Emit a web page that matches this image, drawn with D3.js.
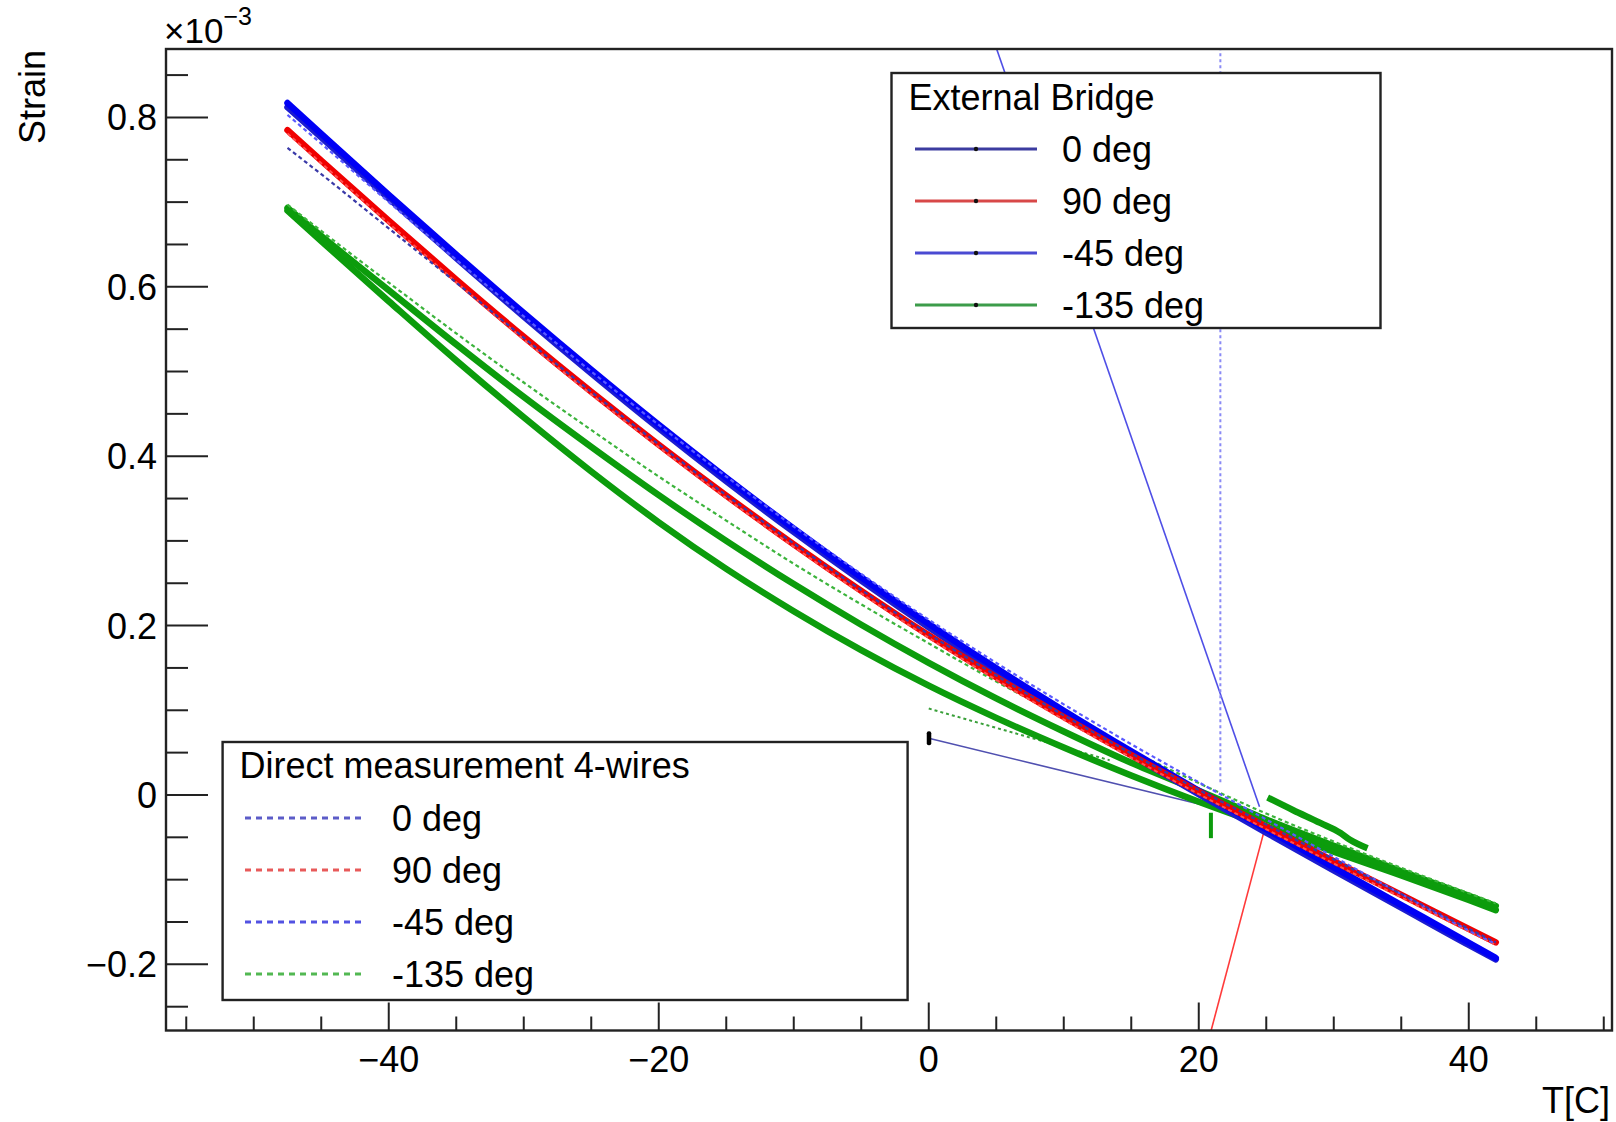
<!DOCTYPE html>
<html><head><meta charset="utf-8">
<script src="https://cdn.jsdelivr.net/npm/d3@7"></script>
<style>
html,body{margin:0;padding:0;background:#fff;}
svg text{font-family:"Liberation Sans",Arial,Helvetica,sans-serif;fill:#000;}
</style></head>
<body><svg id="c" width="1616" height="1122"></svg>
<script>
// ---------------- data (strain in units of 1e-3, T in degC) ----------------
const temps = [-47.5,-45,-40,-35,-30,-25,-20,-15,-10,-5,0,5,10,15,20,25,30,35,40,42];
// External bridge (thick)
const extM45   = [0.817,0.7805,0.7085,0.638,0.569,0.502,0.437,0.3745,0.3145,0.257,0.202,0.1495,0.0995,0.0515,0.005,-0.0405,-0.0855,-0.130,-0.1745,-0.1925];
const ext0     = [0.812,0.7765,0.7045,0.634,0.565,0.498,0.433,0.3705,0.3105,0.253,0.198,0.1455,0.0955,0.0475,0.001,-0.0445,-0.0890,-0.133,-0.1770,-0.1940];
const ext90    = [0.785,0.749,0.678,0.6085,0.541,0.476,0.4135,0.3535,0.296,0.241,0.1885,0.139,0.092,0.047,0.004,-0.0375,-0.078,-0.118,-0.158,-0.174];
const extM135a = [0.690,0.654,0.583,0.513,0.446,0.382,0.322,0.267,0.217,0.171,0.129,0.091,0.056,0.023,-0.008,-0.037,-0.067,-0.095,-0.124,-0.136];
const extM135b = [0.693,0.660,0.596,0.532,0.470,0.411,0.354,0.300,0.249,0.201,0.156,0.114,0.075,0.038,0.005,-0.029,-0.060,-0.090,-0.119,-0.131];
// Direct measurement 4-wires (dashed)
const dirM45   = [0.803,0.769,0.700,0.632,0.565,0.500,0.437,0.376,0.317,0.261,0.207,0.156,0.107,0.060,0.015,-0.029,-0.073,-0.117,-0.160,-0.176];
const dir0     = [0.764,0.733,0.669,0.605,0.540,0.476,0.414,0.354,0.297,0.242,0.190,0.141,0.094,0.049,0.006,-0.035,-0.076,-0.117,-0.158,-0.174];
const dir90    = [0.781,0.746,0.675,0.6055,0.538,0.473,0.4105,0.3505,0.293,0.238,0.1855,0.136,0.089,0.044,0.001,-0.0405,-0.081,-0.121,-0.161,-0.177];
const dirM135  = [0.697,0.666,0.605,0.545,0.487,0.431,0.376,0.324,0.273,0.225,0.179,0.134,0.092,0.052,0.014,-0.022,-0.055,-0.086,-0.116,-0.128];
// first-point glitches / connecting segments [T, strain]
const ext0Start    = [[0.0,0.067],[20.85,-0.014]];
const extM45Start  = [[2.0,1.02],[24.5,-0.014]];
const ext90Start   = [[17.0,-0.513],[24.8,-0.045]];
const extM135Start = [[20.9,-0.051],[20.9,-0.021]];
const extM135Tail  = [[25.1,-0.003],[27.0,-0.018],[29.0,-0.033],[30.5,-0.045],[31.2,-0.053],[32.5,-0.063]];
const dirM45Start  = [[21.6,1.40],[21.6,0.014]];
const dirM135Start = [[0.0,0.102],[13.4,0.041]];
// axes
const xMajor = [-40,-20,0,20,40];
const xMinor = [-55,-50,-45,-35,-30,-25,-15,-10,-5,5,10,15,25,30,35,45,50];
const yMajor = [-0.2,0,0.2,0.4,0.6,0.8];
const yMinor = [-0.25,-0.15,-0.1,-0.05,0.05,0.1,0.15,0.25,0.3,0.35,0.45,0.5,0.55,0.65,0.7,0.75,0.85];
const legendExtLabels = ["0 deg","90 deg","-45 deg","-135 deg"];
const legendDirLabels = ["0 deg","90 deg","-45 deg","-135 deg"];

// ---------------- layout ----------------
const L=166, T=49, R=1612, B=1030.5;
const svg = d3.select("#c");
const x = d3.scaleLinear().domain([-56.5,50.61]).range([L,R]);
const y = d3.scaleLinear().domain([-0.2781,0.8808]).range([B,T]);
const FONT = 36;
const minus = s => s.replace("-","\u2212");

svg.append("defs").append("clipPath").attr("id","pc")
  .append("rect").attr("x",L).attr("y",T).attr("width",R-L).attr("height",B-T);
const plot = svg.append("g").attr("clip-path","url(#pc)");

const line = d3.line().x(d=>x(d[0])).y(d=>y(d[1])).curve(d3.curveMonotoneX);
const segLine = d3.line().x(d=>x(d[0])).y(d=>y(d[1]));
const zipT = arr => temps.map((t,i)=>[t,arr[i]]);

function thick(arr,color,w){
  plot.append("path").datum(zipT(arr)).attr("d",line).attr("fill","none")
    .attr("stroke",color).attr("stroke-width",w).attr("stroke-linejoin","round").attr("stroke-linecap","round");
}
function dashed(arr,color,w,dash){
  plot.append("path").datum(zipT(arr)).attr("d",line).attr("fill","none")
    .attr("stroke",color).attr("stroke-width",w).attr("stroke-dasharray",dash);
}
function seg(pts,color,w,dash,curve){
  const p = plot.append("path").datum(pts).attr("d",curve?line:segLine).attr("fill","none")
    .attr("stroke",color).attr("stroke-width",w).attr("stroke-linejoin","round");
  if(dash) p.attr("stroke-dasharray",dash);
}

// connecting glitch segments (thin)
seg(extM45Start,"#4f4fe6",1.6);
seg(ext90Start,"#ff3a3a",1.6);
seg(ext0Start,"#5050b0",1.6);
seg(dirM45Start,"#8a8af5",2,"3,3");
seg(dirM135Start,"#3aa03a",2,"3,3");

// curves
thick(extM135a,"#0c9c0c",6.5);
thick(extM135b,"#0c9c0c",6.5);
seg(extM135Tail,"#0c9c0c",6.5,null,true);
seg(extM135Start,"#0c9c0c",4);
dashed(dirM135,"#3cb43c",2.2,"4,3");
thick(ext0,"#1c1cd0",6.5);
thick(extM45,"#0000f5",6.5);
thick(ext90,"#f00000",6.5);
dashed(dir90,"#ff5050",2,"4,3");
dashed(dirM45,"#5a5aff",2.2,"4,3");
dashed(dir0,"#3a3aa8",2.2,"4,3");

// black marker on first point of ext 0 deg
plot.append("rect").attr("x",x(ext0Start[0][0])-2).attr("y",y(ext0Start[0][1])-7)
  .attr("width",4.5).attr("height",14).attr("rx",2).attr("fill","#000");

// ---------------- axes ----------------
const ax = svg.append("g").attr("stroke","#222").attr("stroke-width",2);
xMajor.forEach(v=>ax.append("line").attr("x1",x(v)).attr("x2",x(v)).attr("y1",B).attr("y2",B-28));
xMinor.forEach(v=>ax.append("line").attr("x1",x(v)).attr("x2",x(v)).attr("y1",B).attr("y2",B-14));
yMajor.forEach(v=>ax.append("line").attr("x1",L).attr("x2",L+42).attr("y1",y(v)).attr("y2",y(v)));
yMinor.forEach(v=>ax.append("line").attr("x1",L).attr("x2",L+22).attr("y1",y(v)).attr("y2",y(v)));
svg.append("rect").attr("x",L).attr("y",T).attr("width",R-L).attr("height",B-T)
  .attr("fill","none").attr("stroke","#222").attr("stroke-width",2.4);

svg.append("g").selectAll("text").data(xMajor).join("text")
  .attr("x",d=>x(d)).attr("y",1072).attr("text-anchor","middle").attr("font-size",FONT)
  .text(d=>minus(String(d)));
svg.append("g").selectAll("text").data(yMajor).join("text")
  .attr("x",157).attr("y",d=>y(d)+13).attr("text-anchor","end").attr("font-size",FONT)
  .text(d=>minus(d===0?"0":d.toFixed(1)));

svg.append("text").attr("transform","translate(45,50) rotate(-90)").attr("text-anchor","end")
  .attr("font-size",FONT).text("Strain");
svg.append("text").attr("x",1610).attr("y",1113).attr("text-anchor","end").attr("font-size",FONT).text("T[C]");
const mult = svg.append("text").attr("x",164).attr("y",43).attr("font-size",35);
mult.append("tspan").text("\u00d710");
mult.append("tspan").attr("font-size",25).attr("dy",-18).text("\u22123");

// ---------------- legends ----------------
function legend(x0,y0,w,h,title,titleY,rows,labels,colors,dash,lx0,lx1,tx,marker){
  const g = svg.append("g");
  g.append("rect").attr("x",x0).attr("y",y0).attr("width",w).attr("height",h)
    .attr("fill","#fff").attr("stroke","#222").attr("stroke-width",2.4);
  g.append("text").attr("x",x0+17).attr("y",titleY).attr("font-size",FONT).text(title);
  labels.forEach((lab,i)=>{
    const ly = rows[i];
    const l = g.append("line").attr("x1",lx0).attr("x2",lx1).attr("y1",ly).attr("y2",ly)
      .attr("stroke",colors[i]).attr("stroke-width",3);
    if(dash) l.attr("stroke-dasharray",dash);
    if(marker) g.append("circle").attr("cx",(lx0+lx1)/2).attr("cy",ly).attr("r",2.2).attr("fill","#111");
    g.append("text").attr("x",tx).attr("y",ly+13).attr("font-size",FONT).text(lab);
  });
}
legend(891.5,73,489,255,"External Bridge",110,[149,201,253,305],legendExtLabels,
  ["#3c3ca0","#d84848","#4a4ad2","#3c9c4a"],null,915,1037,1062,true);
legend(222.6,742,685,258,"Direct measurement 4-wires",778,[818,870,922,974],legendDirLabels,
  ["#5c5cc8","#e85a5a","#5252e2","#52b852"],"6,5",245,363,392,false);
</script></body></html>
